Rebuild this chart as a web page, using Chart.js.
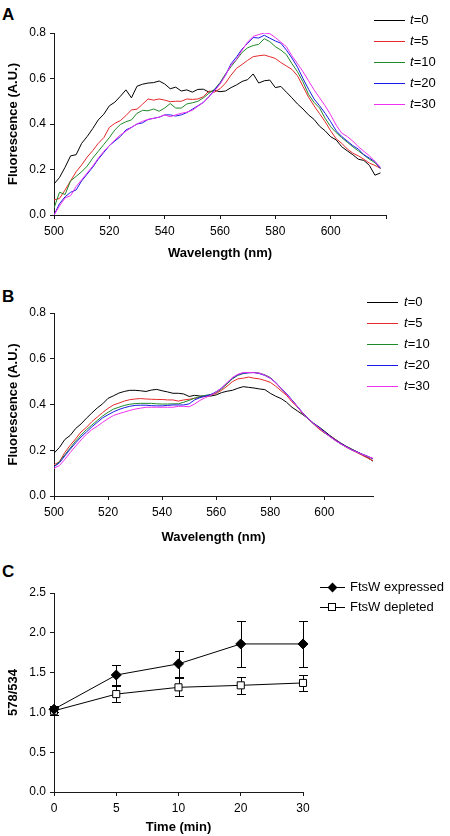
<!DOCTYPE html>
<html>
<head>
<meta charset="utf-8">
<script src="https://cdn.jsdelivr.net/npm/chart.js@4.4.1/dist/chart.umd.min.js"></script>
<style>
  body { margin: 0; background: #fff; }
  #page { position: relative; width: 450px; height: 836px; overflow: hidden; font-family: "Liberation Sans", Arial, sans-serif; color: #000; }
  canvas { position: absolute; left: 0; }
  .letter { position: absolute; left: 2px; font: bold 17px/17px "Liberation Sans", Arial, sans-serif; }
  .leg { position: absolute; height: 16px; font: 13px/16px "Liberation Sans", Arial, sans-serif; white-space: nowrap; }
  .leg .ln { position: absolute; top: 8px; height: 1px; background: #000; }
  .leg .tx { position: absolute; top: 0; }
  .mk { position: absolute; box-sizing: border-box; }
</style>
</head>
<body>
<div id="page">
  <div class="letter" style="top:6px">A</div>
  <div class="letter" style="top:288px">B</div>
  <div class="letter" style="top:563px">C</div>
  <canvas id="chartA" width="450" height="270" style="top:0"></canvas>
  <canvas id="chartB" width="450" height="270" style="top:280px"></canvas>
  <canvas id="chartC" width="450" height="276" style="top:560px"></canvas>
</div>
<script>
// ===== DATOS =====
const wavelengths = [
  500, 502, 504, 506, 508, 510, 512, 514, 516, 518,
  520, 522, 524, 526, 528, 530, 532, 534, 536, 538,
  540, 542, 544, 546, 548, 550, 552, 554, 556, 558,
  560, 562, 564, 566, 568, 570, 572, 574, 576, 578,
  580, 582, 584, 586, 588, 590, 592, 594, 596, 598,
  600, 602, 604, 606, 608, 610, 612, 614, 616, 618
];
const timePoints = ['0', '5', '10', '20', '30'];
const seriesColors = ['#000000', '#e5282b', '#1f8a2a', '#1a1ae6', '#f030f0'];

// Panel A
const specA_t0 = [
  0.136, 0.165, 0.21, 0.26, 0.265, 0.315, 0.345, 0.38, 0.418, 0.443,
  0.48, 0.496, 0.522, 0.55, 0.515, 0.566, 0.575, 0.58, 0.582, 0.589,
  0.576, 0.555, 0.562, 0.545, 0.55, 0.54, 0.552, 0.553, 0.54, 0.548,
  0.542, 0.545, 0.56, 0.572, 0.587, 0.595, 0.62, 0.58, 0.59, 0.593,
  0.56, 0.565, 0.54, 0.515, 0.488, 0.466, 0.44, 0.42, 0.39, 0.37,
  0.344, 0.33, 0.30, 0.282, 0.265, 0.245, 0.24, 0.218, 0.175, 0.185
];
const specA_t5 = [
  0.066, 0.073, 0.11, 0.15, 0.19, 0.22, 0.255, 0.283, 0.315, 0.34,
  0.385, 0.403, 0.415, 0.437, 0.462, 0.465, 0.487, 0.51, 0.505, 0.51,
  0.505, 0.498, 0.50, 0.50, 0.51, 0.508, 0.51, 0.52, 0.545, 0.54,
  0.555, 0.58, 0.615, 0.645, 0.662, 0.68, 0.696, 0.70, 0.703, 0.696,
  0.688, 0.67, 0.655, 0.64, 0.612, 0.565, 0.518, 0.48, 0.445, 0.41,
  0.37, 0.335, 0.315, 0.29, 0.272, 0.26, 0.245, 0.228, 0.218, 0.205
];
const specA_t10 = [
  0.03, 0.10, 0.09, 0.15, 0.17, 0.19, 0.215, 0.25, 0.28, 0.31,
  0.34, 0.374, 0.398, 0.41, 0.418, 0.447, 0.46, 0.458, 0.466, 0.456,
  0.47, 0.49, 0.47, 0.47, 0.488, 0.493, 0.50, 0.515, 0.535, 0.552,
  0.582, 0.62, 0.652, 0.683, 0.715, 0.735, 0.745, 0.75, 0.775, 0.762,
  0.74, 0.725, 0.705, 0.665, 0.63, 0.585, 0.53, 0.495, 0.47, 0.425,
  0.388, 0.362, 0.34, 0.32, 0.30, 0.282, 0.264, 0.245, 0.23, 0.205
];
const specA_t20 = [
  0.0, 0.05, 0.08, 0.10, 0.11, 0.15, 0.18, 0.21, 0.245, 0.275,
  0.305, 0.325, 0.345, 0.374, 0.385, 0.40, 0.405, 0.42, 0.425, 0.43,
  0.44, 0.44, 0.435, 0.44, 0.45, 0.465, 0.48, 0.495, 0.52, 0.55,
  0.578, 0.615, 0.665, 0.695, 0.73, 0.755, 0.78, 0.778, 0.79, 0.777,
  0.765, 0.755, 0.725, 0.69, 0.65, 0.60, 0.553, 0.51, 0.48, 0.447,
  0.41, 0.37, 0.345, 0.325, 0.305, 0.29, 0.265, 0.25, 0.235, 0.205
];
const specA_t30 = [
  0.0, 0.04, 0.075, 0.085, 0.125, 0.155, 0.185, 0.215, 0.25, 0.28,
  0.305, 0.33, 0.352, 0.368, 0.385, 0.40, 0.412, 0.42, 0.425, 0.43,
  0.44, 0.432, 0.44, 0.447, 0.452, 0.46, 0.478, 0.495, 0.52, 0.545,
  0.575, 0.615, 0.66, 0.685, 0.725, 0.76, 0.785, 0.793, 0.80, 0.797,
  0.78, 0.76, 0.74, 0.70, 0.665, 0.63, 0.59, 0.55, 0.515, 0.48,
  0.44, 0.395, 0.36, 0.345, 0.325, 0.30, 0.28, 0.26, 0.235, 0.21
];

// Panel B
const specB_t0 = [
  0.187, 0.212, 0.247, 0.265, 0.295, 0.315, 0.34, 0.363, 0.385, 0.403,
  0.427, 0.438, 0.45, 0.457, 0.462, 0.462, 0.46, 0.457, 0.463, 0.466,
  0.46, 0.455, 0.449, 0.449, 0.446, 0.435, 0.44, 0.437, 0.437, 0.437,
  0.442, 0.452, 0.458, 0.462, 0.471, 0.478, 0.475, 0.472, 0.468, 0.465,
  0.449, 0.436, 0.426, 0.41, 0.388, 0.372, 0.356, 0.338, 0.318, 0.302,
  0.284, 0.265, 0.248, 0.232, 0.218, 0.206, 0.194, 0.182, 0.168, 0.152
];
const specB_t5 = [
  0.136, 0.15, 0.19, 0.222, 0.25, 0.28, 0.30, 0.325, 0.345, 0.365,
  0.383, 0.398, 0.406, 0.415, 0.421, 0.424, 0.426, 0.424, 0.423, 0.422,
  0.422, 0.42, 0.42, 0.415, 0.42, 0.423, 0.427, 0.431, 0.436, 0.442,
  0.448, 0.462, 0.48, 0.50, 0.512, 0.515, 0.52, 0.515, 0.512, 0.505,
  0.497, 0.48, 0.46, 0.44, 0.412, 0.39, 0.36, 0.338, 0.315, 0.293,
  0.276, 0.262, 0.247, 0.23, 0.214, 0.203, 0.19, 0.178, 0.166, 0.154
];
const specB_t10 = [
  0.128, 0.15, 0.18, 0.21, 0.24, 0.266, 0.29, 0.31, 0.33, 0.35,
  0.366, 0.38, 0.388, 0.396, 0.401, 0.404, 0.405, 0.405, 0.405, 0.403,
  0.402, 0.402, 0.403, 0.403, 0.41, 0.418, 0.428, 0.434, 0.44, 0.444,
  0.452, 0.468, 0.49, 0.512, 0.527, 0.535, 0.54, 0.54, 0.537, 0.53,
  0.518, 0.495, 0.47, 0.445, 0.42, 0.39, 0.362, 0.337, 0.315, 0.298,
  0.277, 0.26, 0.243, 0.228, 0.215, 0.202, 0.192, 0.182, 0.172, 0.162
];
const specB_t20 = [
  0.128, 0.145, 0.175, 0.205, 0.232, 0.258, 0.28, 0.302, 0.322, 0.342,
  0.355, 0.368, 0.378, 0.386, 0.392, 0.396, 0.397, 0.397, 0.395, 0.394,
  0.394, 0.396, 0.398, 0.398, 0.398, 0.403, 0.42, 0.43, 0.437, 0.443,
  0.456, 0.472, 0.494, 0.515, 0.53, 0.537, 0.538, 0.54, 0.535, 0.527,
  0.515, 0.497, 0.47, 0.448, 0.42, 0.392, 0.364, 0.34, 0.318, 0.30,
  0.28, 0.262, 0.245, 0.23, 0.216, 0.203, 0.193, 0.183, 0.174, 0.163
];
const specB_t30 = [
  0.121, 0.133, 0.16, 0.19, 0.218, 0.245, 0.27, 0.29, 0.305, 0.322,
  0.338, 0.352, 0.36, 0.367, 0.374, 0.38, 0.384, 0.388, 0.388, 0.388,
  0.388, 0.388, 0.388, 0.392, 0.392, 0.39, 0.402, 0.418, 0.43, 0.44,
  0.455, 0.472, 0.495, 0.518, 0.532, 0.54, 0.54, 0.539, 0.537, 0.528,
  0.515, 0.495, 0.47, 0.445, 0.418, 0.392, 0.362, 0.338, 0.316, 0.298,
  0.278, 0.26, 0.243, 0.228, 0.215, 0.202, 0.192, 0.182, 0.173, 0.165
];

// Panel C
const ratioExpressed = [1.04, 1.47, 1.61, 1.86, 1.86];
const errExpressed = [0.04, 0.13, 0.165, 0.29, 0.29];
const ratioDepleted = [1.02, 1.23, 1.315, 1.34, 1.37];
const errDepleted = [0.05, 0.105, 0.115, 0.11, 0.105];

// ===== ESTILO COMÚN =====
const FONT = '"Liberation Sans", Arial, sans-serif';
const AXIS_COLOR = '#1a1a1a';

function axisGrid() {
  return { display: true, drawOnChartArea: false, drawTicks: true, tickLength: 4, color: AXIS_COLOR, lineWidth: 1 };
}

function axisTitle(text, padding) {
  return { display: true, text: text, color: '#000', font: { family: FONT, size: 13, weight: 'bold' }, padding: padding };
}

// ===== ESPECTROS (A y B) =====
function spectrumChart(canvasId, series, layout) {
  const datasets = series.map((vals, i) => ({
    label: 't=' + timePoints[i],
    data: vals.map((v, j) => ({ x: wavelengths[j], y: v })),
    borderColor: seriesColors[i],
    borderWidth: 1,
    pointRadius: 0,
    tension: 0,
    fill: false,
    order: series.length - 1 - i
  }));

  return new Chart(document.getElementById(canvasId), {
    type: 'line',
    data: { datasets },
    options: {
      responsive: false,
      animation: false,
      devicePixelRatio: 1,
      layout: { padding: { left: 0, top: 33, right: layout.right, bottom: layout.bottom } },
      plugins: { legend: { display: false }, tooltip: { enabled: false } },
      scales: {
        x: {
          type: 'linear',
          min: 500,
          max: layout.xMax,
          grid: axisGrid(),
          border: { color: AXIS_COLOR, width: 1 },
          ticks: {
            stepSize: 20,
            padding: 5,
            color: '#000',
            font: { family: FONT, size: 12 },
            callback: v => (v >= 620 ? '' : v)
          },
          afterBuildTicks: axis => { axis.ticks = axis.ticks.filter(t => t.value % 20 === 0); },
          afterFit: scale => { scale.height = layout.xHeight; },
          title: axisTitle('Wavelength (nm)', { top: 0, bottom: 0 })
        },
        y: {
          min: 0,
          max: 0.8,
          grid: axisGrid(),
          border: { color: AXIS_COLOR, width: 1 },
          ticks: {
            stepSize: 0.2,
            padding: 4,
            color: '#000',
            font: { family: FONT, size: 12 },
            callback: v => v.toFixed(1)
          },
          afterFit: scale => { scale.width = 54; },
          title: axisTitle('Fluorescence (A.U.)', { top: 6, bottom: 0 })
        }
      }
    }
  });
}

spectrumChart('chartA', [specA_t0, specA_t5, specA_t10, specA_t20, specA_t30],
  { xMax: 620, right: 64, bottom: 9, xHeight: 46 });
spectrumChart('chartB', [specB_t0, specB_t5, specB_t10, specB_t20, specB_t30],
  { xMax: 618, right: 77, bottom: 5, xHeight: 49 });

// ===== LEYENDAS A y B =====
const page = document.getElementById('page');

function spectrumLegend(lineX, lineW, textX, centers) {
  timePoints.forEach((tp, i) => {
    const item = document.createElement('div');
    item.className = 'leg';
    item.style.left = lineX + 'px';
    item.style.top = (centers[i] - 8) + 'px';
    item.innerHTML = '<span class="ln" style="left:0;width:' + lineW + 'px;background:' + seriesColors[i] + '"></span>' +
      '<span class="tx" style="left:' + (textX - lineX) + 'px"><i>t</i>=' + tp + '</span>';
    page.appendChild(item);
  });
}
spectrumLegend(374, 31, 410, [20, 41, 62, 83, 104]);
spectrumLegend(367, 31, 404, [302, 323, 344, 365, 386]);

// ===== PANEL C =====
const errorBars = {
  id: 'errorBars',
  beforeDatasetsDraw(chart) {
    const { ctx, scales: { x, y } } = chart;
    ctx.save();
    ctx.strokeStyle = '#000';
    ctx.lineWidth = 1;
    chart.data.datasets.forEach(ds => {
      if (!ds.errors) return;
      ds.data.forEach((v, j) => {
        const px = Math.round(x.getPixelForValue(j)) + 0.5;
        const top = Math.round(y.getPixelForValue(v + ds.errors[j])) + 0.5;
        const bot = Math.round(y.getPixelForValue(v - ds.errors[j])) + 0.5;
        ctx.beginPath();
        ctx.moveTo(px, top); ctx.lineTo(px, bot);
        ctx.moveTo(px - 4.5, top); ctx.lineTo(px + 4.5, top);
        ctx.moveTo(px - 4.5, bot); ctx.lineTo(px + 4.5, bot);
        ctx.stroke();
      });
    });
    ctx.restore();
  }
};

new Chart(document.getElementById('chartC'), {
  type: 'line',
  data: {
    labels: timePoints,
    datasets: [
      {
        label: 'FtsW expressed',
        data: ratioExpressed,
        errors: errExpressed,
        borderColor: '#000',
        borderWidth: 1,
        pointStyle: 'rectRot',
        pointRadius: 5,
        pointBackgroundColor: '#000',
        pointBorderColor: '#000',
        pointBorderWidth: 1,
        tension: 0,
        clip: false
      },
      {
        label: 'FtsW depleted',
        data: ratioDepleted,
        errors: errDepleted,
        borderColor: '#000',
        borderWidth: 1,
        pointStyle: 'rect',
        pointRadius: 5,
        pointBackgroundColor: '#fff',
        pointBorderColor: '#000',
        pointBorderWidth: 1,
        tension: 0,
        clip: false
      }
    ]
  },
  options: {
    responsive: false,
    animation: false,
    devicePixelRatio: 1,
    layout: { padding: { left: 0, top: 33, right: 147, bottom: 1 } },
    plugins: { legend: { display: false }, tooltip: { enabled: false } },
    scales: {
      x: {
        type: 'category',
        offset: false,
        grid: Object.assign(axisGrid(), { offset: false }),
        border: { color: AXIS_COLOR, width: 1 },
        ticks: { padding: 5, color: '#000', font: { family: FONT, size: 12 } },
        afterFit: scale => { scale.height = 43; },
        title: axisTitle('Time (min)', { top: 0, bottom: 0 })
      },
      y: {
        min: 0,
        max: 2.5,
        grid: axisGrid(),
        border: { color: AXIS_COLOR, width: 1 },
        ticks: {
          stepSize: 0.5,
          padding: 4,
          color: '#000',
          font: { family: FONT, size: 12 },
          callback: v => v.toFixed(1)
        },
        afterFit: scale => { scale.width = 54; },
        title: axisTitle('578/534', { top: 6, bottom: 0 })
      }
    }
  },
  plugins: [errorBars]
});

// Leyenda C
const legendC = [
  { text: 'FtsW expressed', y: 587, marker: 'diamond' },
  { text: 'FtsW depleted', y: 607, marker: 'square' }
];
legendC.forEach(it => {
  const item = document.createElement('div');
  item.className = 'leg';
  item.style.left = '320px';
  item.style.top = (it.y - 8) + 'px';
  const mk = it.marker === 'diamond'
    ? '<span class="mk" style="left:9px;top:5px;width:7px;height:7px;background:#000;transform:rotate(45deg)"></span>'
    : '<span class="mk" style="left:8px;top:4px;width:8px;height:8px;background:#fff;border:1px solid #000"></span>';
  item.innerHTML = '<span class="ln" style="left:0;width:25px"></span>' + mk +
    '<span class="tx" style="left:30px">' + it.text + '</span>';
  page.appendChild(item);
});
</script>
</body>
</html>
